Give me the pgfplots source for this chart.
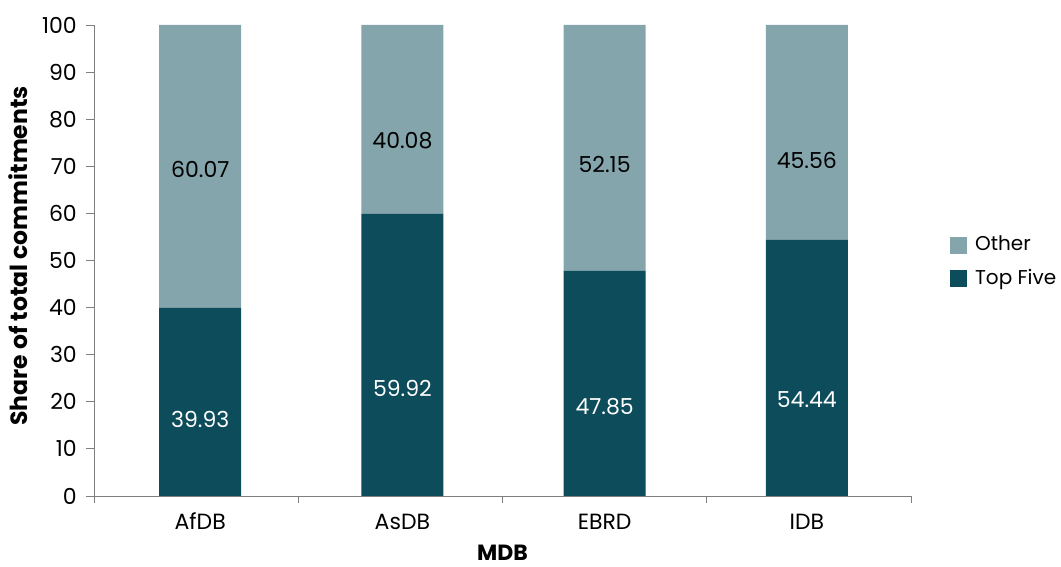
\documentclass[border=0pt]{standalone}
\usepackage{fontspec}
\setmainfont{Poppins}
\usepackage{pgfplots}
\pgfplotsset{compat=1.18}
\definecolor{otherc}{HTML}{84A5AB}
\definecolor{topc}{HTML}{0D4C5A}
\definecolor{axc}{HTML}{7F7F7F}
\newcommand{\fs}{\fontsize{22pt}{26pt}\selectfont}
\begin{document}
\fs
\begin{tikzpicture}
\begin{axis}[name=ax, scale only axis, width=817pt, height=471pt,
  xmin=-0.5, xmax=3.5, ymin=0, ymax=100,
  axis x line=bottom, axis y line=left,
  axis line style={-, draw=axc, line width=0.8pt},
  ybar stacked, bar width=82pt,
  ytick={0,10,...,100},
  xtick={0.02,1.01,2,2.99}, xticklabels={AfDB,AsDB,EBRD,IDB},
  xtick style={draw=none},
  ytick style={draw=axc, line width=0.8pt},
  tick align=outside, major tick length=8pt,
  extra x ticks={-0.5,0.5,1.5,2.5,3.5}, extra x tick labels={},
  extra x tick style={xtick style={draw=axc, line width=0.8pt}, major tick length=7pt},
  /pgf/number format/assume math mode=true,
  tick label style={font=\fs},
  yticklabel style={anchor=east, inner sep=0pt, xshift=-9pt},
  xticklabel style={anchor=base, inner sep=0pt, yshift=-26pt},
  every axis y label/.style={at={(axis description cs:-0.093,0.51)}, rotate=90, anchor=center, font=\bfseries\fontsize{23.5pt}{27pt}\selectfont},
  every axis x label/.style={at={(axis description cs:0.5,-0.121)}, anchor=center, font=\bfseries\fs},
  ylabel={Share of total commitments}, xlabel={MDB},
  reverse legend,
  legend style={at={(axis description cs:1.044,0.497)}, anchor=west, draw=none, fill=none,
    font=\fontsize{20pt}{24pt}\selectfont, row sep=15pt,
    nodes={inner sep=0pt, anchor=west}},
  legend image code/.code={\fill[#1] (0pt,-8.5pt) rectangle (17pt,8.5pt);},
  legend cell align=left,
]
\addplot[fill=topc, draw=none] coordinates {(0.02,39.93) (1.01,59.92) (2,47.85) (2.99,54.44)};
\addlegendentry{\hspace{8pt}Top Five}
\addplot[fill=otherc, draw=none] coordinates {(0.02,60.07) (1.01,40.08) (2,52.15) (2.99,45.56)};
\addlegendentry{\hspace{8pt}Other}
\end{axis}
\begin{axis}[scale only axis, width=817pt, height=471pt,
  xmin=-0.5, xmax=3.5, ymin=0, ymax=100, hide axis,
  nodes near coords, point meta=explicit symbolic,
  every node near coord/.style={anchor=center, font=\fs},
]
\addplot[only marks, mark=none, draw=none, every node near coord/.append style={text=white}]
  coordinates {(0.02,16.3)[39.93] (1.01,22.9)[59.92] (2,18.9)[47.85] (2.99,20.4)[54.44]};
\addplot[only marks, mark=none, draw=none, every node near coord/.append style={text=black}]
  coordinates {(0.02,69.4)[60.07] (1.01,75.4)[40.08] (2,70.3)[52.15] (2.99,71.3)[45.56]};
\end{axis}
\pgfresetboundingbox
\path ([shift={(-94pt,-71pt)}]ax.south west) rectangle ([shift={(967pt,496pt)}]ax.south west);
\end{tikzpicture}
\end{document}
